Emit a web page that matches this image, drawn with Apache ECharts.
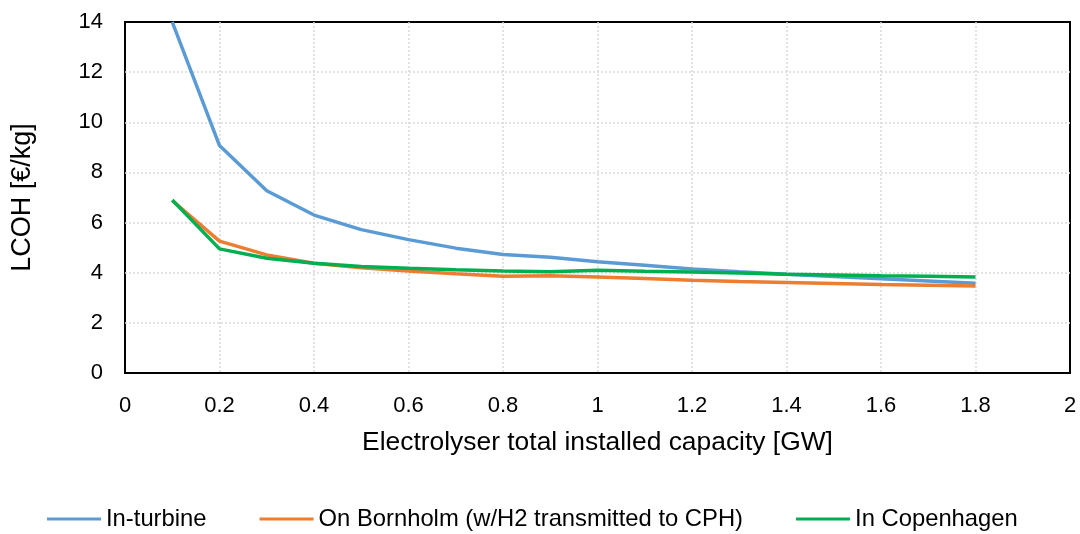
<!DOCTYPE html>
<html>
<head>
<meta charset="utf-8">
<script src="https://cdn.jsdelivr.net/npm/echarts@6/dist/echarts.min.js"></script>
<style>
  html, body { margin: 0; padding: 0; background: #fff; }
  #chart { width: 1080px; height: 534px; }
</style>
</head>
<body>
<div id="chart"></div>
<script>
// Electrolyser capacity (GW) and levelised cost of hydrogen (€/kg) per siting option
const capacity = [0.1, 0.2, 0.3, 0.4, 0.5, 0.6, 0.7, 0.8, 0.9, 1.0, 1.1, 1.2, 1.3, 1.4, 1.5, 1.6, 1.7, 1.8];
const inTurbine = [14.0, 9.07, 7.27, 6.30, 5.72, 5.32, 4.98, 4.73, 4.62, 4.44, 4.30, 4.15, 4.04, 3.94, 3.85, 3.76, 3.67, 3.58];
const onBornholm = [6.88, 5.26, 4.71, 4.38, 4.20, 4.07, 3.96, 3.86, 3.88, 3.83, 3.77, 3.70, 3.65, 3.61, 3.57, 3.53, 3.50, 3.47];
const inCopenhagen = [6.90, 4.95, 4.58, 4.38, 4.25, 4.18, 4.12, 4.07, 4.04, 4.10, 4.06, 4.03, 3.99, 3.94, 3.91, 3.88, 3.86, 3.83];
const seriesNames = ['In-turbine', 'On Bornholm (w/H2 transmitted to CPH)', 'In Copenhagen'];
const seriesColors = ['#5B9BD5', '#ED7D31', '#00B050'];

const font = 'Liberation Sans, Arial, sans-serif';
const pairs = vals => capacity.map((c, i) => [c, vals[i]]);
const allValues = [inTurbine, onBornholm, inCopenhagen];
const gridLine = { show: true, showMinLine: false, showMaxLine: false,
                   lineStyle: { color: '#d9d9d9', width: 1.5, type: [2, 2] } };

const chart = echarts.init(document.getElementById('chart'));
chart.setOption({
  animation: false,
  textStyle: { fontFamily: font },
  grid: {
    left: 125, right: 10, top: 22, bottom: 161,
    show: true, borderColor: '#000', borderWidth: 2, backgroundColor: 'transparent'
  },
  legend: {
    top: 507,
    left: 47,
    padding: 0,
    itemWidth: 54,
    itemHeight: 3,
    itemGap: 53,
    icon: 'rect',
    textStyle: { fontFamily: font, fontSize: 23.8, color: '#000' },
    data: seriesNames
  },
  xAxis: {
    type: 'value',
    min: 0, max: 2, interval: 0.2,
    name: 'Electrolyser total installed capacity [GW]',
    nameLocation: 'middle',
    nameGap: 57,
    nameTextStyle: { fontFamily: font, fontSize: 26.4, color: '#000' },
    axisLine: { show: false },
    axisTick: { show: false },
    axisLabel: {
      fontFamily: font, fontSize: 22, color: '#000', margin: 22,
      formatter: v => String(+v.toFixed(1))
    },
    splitLine: gridLine
  },
  yAxis: {
    type: 'value',
    min: 0, max: 14, interval: 2,
    name: 'LCOH [€/kg]',
    nameLocation: 'middle',
    nameGap: 89,
    nameRotate: 90,
    nameTextStyle: { fontFamily: font, fontSize: 27, color: '#000' },
    axisLine: { show: false },
    axisTick: { show: false },
    axisLabel: { fontFamily: font, fontSize: 22, color: '#000', margin: 22 },
    splitLine: gridLine
  },
  series: seriesNames.map((name, i) => ({
    name,
    type: 'line',
    data: pairs(allValues[i]),
    showSymbol: false,
    symbol: 'none',
    lineStyle: { color: seriesColors[i], width: 3.5 },
    itemStyle: { color: seriesColors[i] },
    z: 3 + i
  }))
});
</script>
</body>
</html>
